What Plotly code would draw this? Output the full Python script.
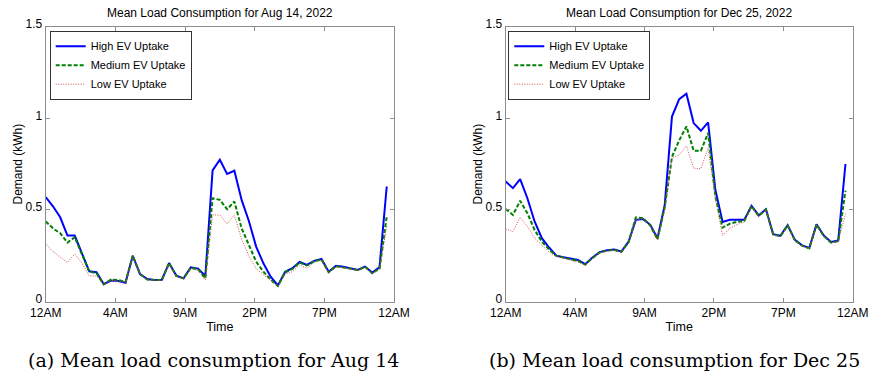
import plotly.graph_objects as go

hours = [0.0, 0.5, 1.0, 1.5, 2.0, 2.5, 3.0, 3.5, 4.0, 4.5, 5.0, 5.5, 6.0, 6.5, 7.0, 7.5,
         8.0, 8.5, 9.0, 9.5, 10.0, 10.5, 11.0, 11.5, 12.0, 12.5, 13.0, 13.5, 14.0, 14.5, 15.0, 15.5,
         16.0, 16.5, 17.0, 17.5, 18.0, 18.5, 19.0, 19.5, 20.0, 20.5, 21.0, 21.5, 22.0, 22.5, 23.0, 23.5]

aug_high = [0.57, 0.52, 0.46, 0.36, 0.36, 0.26, 0.165, 0.16, 0.095, 0.115, 0.112, 0.103, 0.25, 0.15, 0.123, 0.118,
            0.118, 0.21, 0.142, 0.127, 0.187, 0.18, 0.14, 0.716, 0.774, 0.697, 0.714, 0.555, 0.44, 0.30, 0.209, 0.136,
            0.088, 0.163, 0.182, 0.216, 0.2, 0.222, 0.233, 0.163, 0.195, 0.19, 0.182, 0.173, 0.191, 0.158, 0.187, 0.628]
aug_med = [0.437, 0.40, 0.373, 0.322, 0.351, 0.26, 0.165, 0.155, 0.095, 0.12, 0.118, 0.108, 0.25, 0.15, 0.12, 0.118,
           0.118, 0.21, 0.14, 0.127, 0.185, 0.176, 0.127, 0.564, 0.555, 0.504, 0.546, 0.40, 0.31, 0.218, 0.163, 0.12,
           0.085, 0.16, 0.178, 0.213, 0.197, 0.22, 0.23, 0.16, 0.193, 0.188, 0.18, 0.172, 0.19, 0.155, 0.18, 0.464]
aug_low = [0.315, 0.273, 0.242, 0.213, 0.26, 0.21, 0.14, 0.14, 0.09, 0.115, 0.11, 0.105, 0.245, 0.148, 0.118, 0.115,
           0.116, 0.205, 0.138, 0.125, 0.18, 0.17, 0.118, 0.473, 0.473, 0.424, 0.473, 0.34, 0.25, 0.18, 0.15, 0.115,
           0.083, 0.15, 0.163, 0.2, 0.182, 0.215, 0.225, 0.158, 0.19, 0.185, 0.178, 0.17, 0.186, 0.152, 0.175, 0.41]

dec_high = [0.655, 0.619, 0.668, 0.564, 0.437, 0.346, 0.295, 0.251, 0.242, 0.236, 0.227, 0.204, 0.24, 0.27, 0.28, 0.284,
            0.273, 0.327, 0.446, 0.45, 0.419, 0.346, 0.528, 1.01, 1.105, 1.134, 0.974, 0.932, 0.978, 0.61, 0.434, 0.446,
            0.446, 0.446, 0.522, 0.47, 0.504, 0.368, 0.359, 0.417, 0.337, 0.307, 0.293, 0.422, 0.36, 0.325, 0.333, 0.751]
dec_med = [0.505, 0.473, 0.55, 0.482, 0.391, 0.327, 0.285, 0.25, 0.24, 0.232, 0.222, 0.202, 0.238, 0.268, 0.278, 0.282,
           0.272, 0.325, 0.459, 0.455, 0.415, 0.34, 0.515, 0.79, 0.88, 0.956, 0.823, 0.823, 0.92, 0.575, 0.404, 0.425,
           0.435, 0.44, 0.52, 0.468, 0.502, 0.366, 0.357, 0.415, 0.335, 0.305, 0.291, 0.42, 0.358, 0.322, 0.33, 0.605]
dec_low = [0.397, 0.382, 0.459, 0.41, 0.346, 0.309, 0.27, 0.245, 0.238, 0.225, 0.215, 0.198, 0.235, 0.265, 0.275, 0.28,
           0.27, 0.32, 0.446, 0.45, 0.412, 0.336, 0.5, 0.785, 0.80, 0.85, 0.728, 0.725, 0.838, 0.56, 0.36, 0.40,
           0.42, 0.435, 0.518, 0.465, 0.5, 0.365, 0.355, 0.413, 0.333, 0.303, 0.289, 0.418, 0.356, 0.32, 0.327, 0.48]

series_names = ["High EV Uptake", "Medium EV Uptake", "Low EV Uptake"]
x_tick_vals = [0, 4.8, 9.6, 14.4, 19.2, 24]
x_tick_text = ["12AM", "4AM", "9AM", "2PM", "7PM", "12AM"]
y_tick_vals = [0, 0.5, 1, 1.5]
y_tick_text = ["0", "0.5", "1", "1.5"]
titles = ["Mean Load Consumption for Aug 14, 2022", "Mean Load Consumption for Dec 25, 2022"]
captions = ["(a) Mean load consumption for Aug 14", "(b) Mean load consumption for Dec 25"]

W, H = 870, 374


def px(xp):
    return xp / W


def py(yp):
    return 1 - yp / H


styles = [
    dict(color="#0000ff", width=2, dash="solid"),
    dict(color="#007f00", width=2, dash="4px,2px"),
    dict(color="#d05050", width=1, dash="1px,1.5px"),
]

fig = go.Figure()
panels = [(aug_high, aug_med, aug_low), (dec_high, dec_med, dec_low)]
for p, data in enumerate(panels):
    xa = "x" if p == 0 else "x2"
    ya = "y" if p == 0 else "y2"
    lg = "legend" if p == 0 else "legend2"
    for name, vals, st in zip(series_names, data, styles):
        fig.add_trace(go.Scatter(x=hours, y=vals, mode="lines", name=name, line=st,
                                 xaxis=xa, yaxis=ya, legend=lg))

font_sans = "Liberation Sans, Arial, sans-serif"
y_dom = [py(301.6), py(26.7)]
x_doms = [[px(45.7), px(394.0)], [px(505.7), px(852.7)]]

axis_common = dict(showline=True, linecolor="#8c8c8c", linewidth=1, mirror="ticks",
                   ticks="inside", ticklen=4, tickcolor="#8c8c8c", showgrid=False, zeroline=False,
                   automargin=False,
                   tickfont=dict(family=font_sans, size=12, color="#000"))

layout = dict(
    template="none",
    width=W, height=H, autosize=False,
    margin=dict(l=0, r=0, t=0, b=0, pad=0),
    paper_bgcolor="white", plot_bgcolor="white",
    font=dict(family=font_sans, color="#000"),
)
for p in range(2):
    sfx = "" if p == 0 else "2"
    layout["xaxis" + sfx] = dict(axis_common, domain=x_doms[p], range=[0, 24],
                                 tickmode="array", tickvals=x_tick_vals, ticktext=x_tick_text,
                                 anchor="y" + sfx,
                                 title=dict(text="Time", standoff=3,
                                            font=dict(family=font_sans, size=12.5, color="#000")))
    layout["yaxis" + sfx] = dict(axis_common, domain=y_dom, range=[0, 1.5],
                                 tickmode="array", tickvals=y_tick_vals, ticktext=y_tick_text,
                                 anchor="x" + sfx, ticklabelshift=-3,
                                 title=dict(text="Demand (kWh)", standoff=0,
                                            font=dict(family=font_sans, size=12, color="#000")))
    lx = px(49.7 if p == 0 else 508.3)
    layout["legend" + sfx] = dict(x=lx, y=py(30.7), xanchor="left", yanchor="top",
                                  xref="paper", yref="paper",
                                  bgcolor="white", bordercolor="#333333", borderwidth=1,
                                  font=dict(family=font_sans, size=11, color="#000"),
                                  tracegroupgap=0, itemwidth=30)

fig.update_layout(**layout)

annotations = []
for p in range(2):
    cx = (x_doms[p][0] + x_doms[p][1]) / 2
    annotations.append(dict(text=titles[p], x=cx, y=py(13), xref="paper", yref="paper",
                            xanchor="center", yanchor="middle", showarrow=False,
                            font=dict(family=font_sans, size=12, color="#000")))
    capx = px(213 if p == 0 else 674)
    annotations.append(dict(text=captions[p], x=capx, y=py(360), xref="paper", yref="paper",
                            xanchor="center", yanchor="middle", showarrow=False,
                            font=dict(family="DejaVu Serif, serif", size=19, color="#000")))
fig.update_layout(annotations=annotations)

# remove the default page margin so the 870x374 figure fills the window exactly
fig.write_html("out.html",
               config={"displayModeBar": False},
               post_script="document.body.style.margin='0';document.body.style.overflow='hidden';")
